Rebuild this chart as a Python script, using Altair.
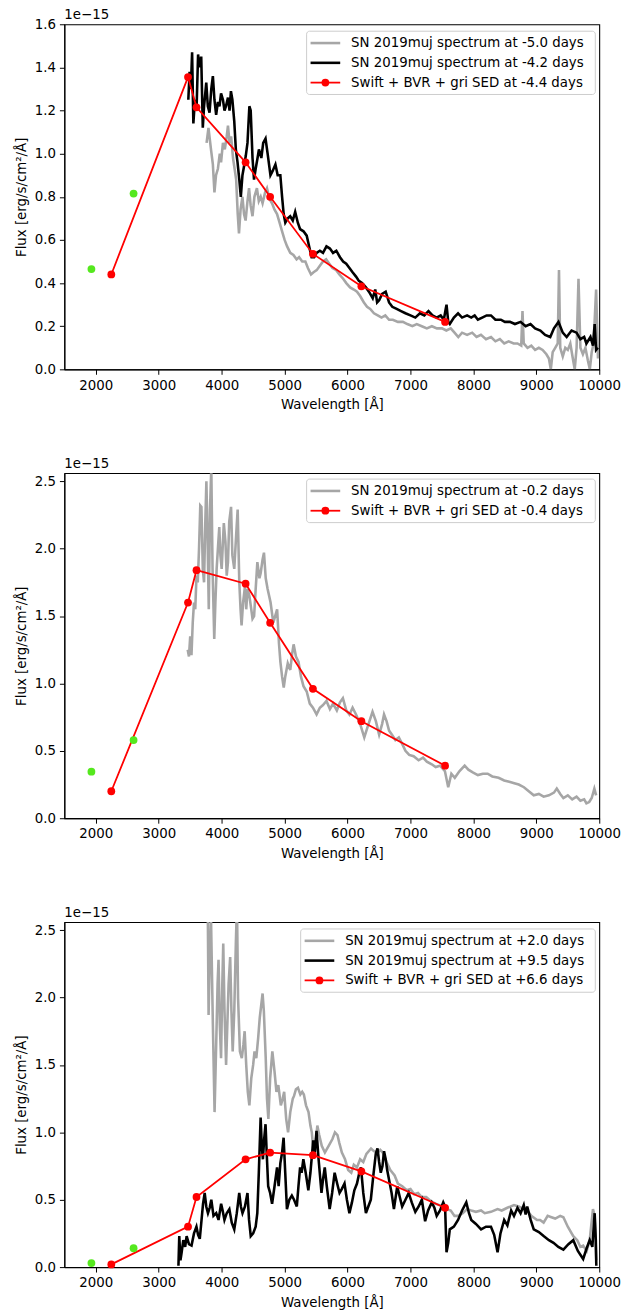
import altair as alt
import pandas as pd

FONT = "DejaVu Sans"
FS = 13.5
GREY = "#a6a6a6"
RED = "#ff0000"
GREEN = "#55e81e"

XTICKS = [2000, 3000, 4000, 5000, 6000, 7000, 8000, 9000, 10000]
OFFSET_TEXT = "1e−15"

# Photometric SED wavelengths (Angstrom)
SED_WL = [2246, 3465, 3600, 4380, 4770, 5450, 6220, 7550]
GREEN_WL = [1930, 2600]

# ---------------- Panel 1 ----------------
P1_SED = [0.44, 1.355, 1.215, 0.96, 0.80, 0.535, 0.385, 0.22]
P1_GREEN = [0.465, 0.815]

P1_GREY_WL = [3760, 3790, 3830, 3860, 3885, 3910, 3940, 3970, 3990, 4020, 4050, 4080, 4100, 4125, 4150,
              4180, 4210, 4230, 4255, 4275, 4300, 4330, 4355, 4380, 4410, 4435, 4460, 4490, 4520, 4560,
              4590, 4620, 4650, 4690, 4720, 4760, 4800, 4840, 4880, 4920, 4960, 5000, 5040, 5090, 5140,
              5190, 5230, 5280, 5330, 5370, 5420, 5460, 5510, 5560, 5610, 5660, 5710, 5760, 5820, 5870,
              5930, 5980, 6040, 6100, 6150, 6200, 6260, 6310, 6360, 6420, 6480, 6540, 6600, 6660, 6720,
              6800, 6880, 6950, 7030, 7100, 7180, 7260, 7340, 7420, 7500, 7570, 7640, 7700, 7760, 7820,
              7900, 7980, 8050, 8120, 8200, 8280, 8350, 8420, 8490, 8560, 8640, 8700, 8760, 8780, 8800,
              8860, 8920, 8980, 9040, 9100, 9160, 9200, 9230, 9260, 9300, 9340, 9360, 9380, 9420, 9460,
              9500, 9540, 9580, 9610, 9640, 9670, 9700, 9740, 9780, 9820, 9850, 9880, 9910, 9950, 9980]
P1_GREY_FL = [1.05, 1.12, 1.02, 0.95, 0.82, 0.90, 0.93, 1.00, 0.96, 1.05, 1.02, 1.08, 1.13, 1.05, 1.08,
              0.98, 0.92, 0.88, 0.72, 0.63, 0.74, 0.80, 0.72, 0.69, 0.78, 0.84, 0.76, 0.71, 0.80, 0.84,
              0.78, 0.80, 0.77, 0.82, 0.84, 0.79, 0.77, 0.74, 0.72, 0.68, 0.64, 0.60, 0.57, 0.54, 0.53,
              0.51, 0.52, 0.50, 0.50, 0.47, 0.44, 0.45, 0.46, 0.48, 0.50, 0.51, 0.49, 0.47, 0.46, 0.44,
              0.42, 0.40, 0.38, 0.37, 0.36, 0.34, 0.31, 0.29, 0.28, 0.26, 0.25, 0.24, 0.25, 0.23, 0.23,
              0.22, 0.22, 0.21, 0.20, 0.21, 0.20, 0.19, 0.20, 0.19, 0.19, 0.18, 0.19, 0.17, 0.15, 0.17,
              0.16, 0.17, 0.15, 0.16, 0.14, 0.15, 0.13, 0.14, 0.12, 0.13, 0.12, 0.12, 0.11, 0.27, 0.12,
              0.10, 0.11, 0.09, 0.10, 0.09, 0.07, 0.05, 0.00, 0.08, 0.10, 0.12, 0.46, 0.10, 0.06, 0.10,
              0.09, 0.12, 0.05, 0.00, 0.10, 0.42, 0.10, 0.07, 0.10, 0.04, 0.00, 0.08, 0.12, 0.37, 0.05]

P1_BLACK_WL = [3470, 3490, 3510, 3530, 3550, 3575, 3600, 3625, 3650, 3675, 3700, 3720, 3755, 3780, 3807,
               3835, 3860, 3885, 3912, 3940, 3965, 3990, 4020, 4045, 4068, 4100, 4125, 4147, 4170, 4200,
               4225, 4252, 4280, 4304, 4330, 4360, 4383, 4410, 4440, 4461, 4490, 4514, 4540, 4570, 4592,
               4630, 4660, 4697, 4730, 4775, 4810, 4854, 4890, 4932, 4960, 4985, 5011, 5050, 5089, 5130,
               5168, 5210, 5246, 5300, 5351, 5390, 5429, 5470, 5508, 5560, 5610, 5665, 5720, 5770, 5822,
               5880, 5930, 5979, 6030, 6080, 6135, 6180, 6230, 6292, 6340, 6400, 6440, 6470, 6502, 6550,
               6606, 6660, 6711, 6780, 6850, 6920, 7000, 7077, 7150, 7220, 7286, 7350, 7417, 7480, 7530,
               7560, 7573, 7600, 7625, 7690, 7756, 7820, 7900, 7966, 8020, 8071, 8140, 8210, 8279, 8350,
               8436, 8500, 8580, 8660, 8750, 8830, 8907, 8980, 9064, 9140, 9221, 9280, 9352, 9420, 9482,
               9560, 9639, 9700, 9760, 9796, 9860, 9900, 9927, 9950, 9979]
P1_BLACK_FL = [1.25, 1.38, 1.30, 1.47, 1.14, 1.25, 1.20, 1.46, 1.40, 1.45, 1.12, 1.22, 1.33, 1.22, 1.19,
               1.30, 1.36, 1.25, 1.18, 1.24, 1.22, 1.28, 1.25, 1.20, 1.22, 1.26, 1.20, 1.29, 1.25, 1.15,
               1.02, 0.96, 0.88, 0.80, 0.90, 0.95, 0.99, 1.05, 1.22, 1.20, 0.98, 0.88, 0.93, 0.98, 1.02,
               0.98, 1.05, 1.07, 1.00, 0.90, 0.92, 0.95, 0.90, 0.90, 0.80, 0.72, 0.68, 0.70, 0.71, 0.69,
               0.73, 0.68, 0.65, 0.64, 0.62, 0.57, 0.52, 0.52, 0.54, 0.55, 0.54, 0.57, 0.56, 0.54, 0.55,
               0.52, 0.50, 0.49, 0.47, 0.45, 0.43, 0.41, 0.40, 0.38, 0.36, 0.33, 0.37, 0.31, 0.32, 0.35,
               0.36, 0.31, 0.29, 0.28, 0.27, 0.26, 0.25, 0.24, 0.26, 0.25, 0.27, 0.25, 0.24, 0.25, 0.23,
               0.28, 0.30, 0.22, 0.21, 0.24, 0.26, 0.24, 0.25, 0.24, 0.25, 0.23, 0.24, 0.25, 0.25, 0.23,
               0.23, 0.22, 0.22, 0.21, 0.22, 0.20, 0.21, 0.19, 0.18, 0.16, 0.15, 0.19, 0.22, 0.17, 0.15,
               0.18, 0.17, 0.14, 0.15, 0.12, 0.15, 0.11, 0.21, 0.09, 0.10]

# ---------------- Panel 2 ----------------
P2_SED = [0.20, 1.60, 1.84, 1.74, 1.45, 0.96, 0.72, 0.39]
P2_GREEN = [0.345, 0.58]

P2_GREY_WL = [3460, 3480, 3500, 3520, 3540, 3560, 3580, 3600, 3620, 3640, 3660, 3678, 3700, 3720, 3740,
              3757, 3775, 3795, 3815, 3835, 3855, 3882, 3900, 3920, 3940, 3962, 3980, 4000, 4034, 4060,
              4080, 4100, 4120, 4149, 4170, 4200, 4230, 4254, 4280, 4300, 4316, 4340, 4370, 4390, 4411,
              4440, 4470, 4490, 4515, 4540, 4567, 4600, 4620, 4650, 4672, 4700, 4730, 4777, 4820, 4850,
              4881, 4910, 4933, 4960, 4986, 5010, 5050, 5090, 5120, 5143, 5180, 5221, 5260, 5300, 5351,
              5400, 5450, 5508, 5560, 5610, 5665, 5720, 5770, 5830, 5880, 5926, 5980, 6030, 6080, 6135,
              6200, 6266, 6320, 6397, 6450, 6502, 6550, 6580, 6620, 6660, 6706, 6760, 6815, 6870, 6920,
              6980, 7050, 7129, 7200, 7260, 7338, 7400, 7470, 7547, 7600, 7650, 7704, 7780, 7861, 7920,
              7990, 8071, 8150, 8227, 8300, 8400, 8489, 8570, 8650, 8720, 8803, 8880, 8959, 9040, 9116,
              9200, 9280, 9325, 9380, 9430, 9500, 9570, 9639, 9700, 9760, 9796, 9840, 9880, 9922, 9950]
P2_GREY_FL = [1.25, 1.20, 1.35, 1.21, 1.45, 1.60, 1.55, 1.80, 1.75, 2.00, 2.32, 2.31, 1.85, 1.75, 2.20,
              2.50, 2.10, 1.55, 2.30, 2.60, 1.85, 1.33, 1.60, 1.85, 2.00, 2.16, 1.95, 1.85, 2.19, 2.05,
              1.80, 1.90, 2.20, 2.31, 1.95, 1.85, 2.10, 2.29, 1.75, 1.55, 1.43, 1.60, 1.72, 1.55, 1.70,
              1.65, 1.55, 1.48, 1.50, 1.70, 1.90, 1.78, 1.82, 1.92, 1.97, 1.78, 1.70, 1.60, 1.45, 1.50,
              1.55, 1.30, 1.16, 1.05, 0.97, 1.05, 1.15, 1.10, 1.22, 1.29, 1.20, 1.16, 1.05, 0.98, 0.94,
              0.85, 0.82, 0.77, 0.82, 0.84, 0.87, 0.81, 0.85, 0.80, 0.86, 0.89, 0.80, 0.77, 0.82, 0.77,
              0.70, 0.60, 0.68, 0.79, 0.72, 0.62, 0.70, 0.77, 0.72, 0.65, 0.62, 0.58, 0.60, 0.55, 0.50,
              0.47, 0.46, 0.43, 0.45, 0.42, 0.40, 0.38, 0.39, 0.35, 0.23, 0.33, 0.30, 0.35, 0.39, 0.36,
              0.34, 0.32, 0.33, 0.33, 0.31, 0.30, 0.28, 0.27, 0.26, 0.25, 0.23, 0.20, 0.17, 0.18, 0.16,
              0.17, 0.19, 0.22, 0.18, 0.15, 0.17, 0.14, 0.16, 0.13, 0.14, 0.11, 0.12, 0.15, 0.22, 0.17]

# ---------------- Panel 3 ----------------
P3_SED = [0.02, 0.30, 0.52, 0.80, 0.85, 0.83, 0.71, 0.44]
P3_GREEN = [0.03, 0.14]

P3_GREY_WL = [3760, 3780, 3792, 3810, 3830, 3860, 3887, 3910, 3935, 3950, 3970, 3990, 4010, 4025, 4045,
              4070, 4090, 4110, 4135, 4155, 4175, 4200, 4225, 4243, 4260, 4290, 4320, 4345, 4365, 4390,
              4415, 4440, 4470, 4500, 4522, 4550, 4580, 4605, 4630, 4650, 4670, 4700, 4720, 4742, 4770,
              4805, 4840, 4870, 4900, 4940, 4970, 4993, 5025, 5055, 5090, 5130, 5150, 5180, 5212, 5250,
              5280, 5306, 5340, 5380, 5410, 5432, 5460, 5490, 5520, 5550, 5590, 5640, 5700, 5760, 5800,
              5840, 5870, 5910, 5960, 6010, 6059, 6100, 6150, 6200, 6250, 6300, 6373, 6420, 6480, 6520,
              6560, 6620, 6680, 6748, 6800, 6870, 6940, 7000, 7060, 7120, 7180, 7250, 7320, 7400, 7460,
              7520, 7580, 7640, 7700, 7760, 7830, 7900, 7966, 8040, 8122, 8180, 8279, 8384, 8450, 8540,
              8645, 8720, 8800, 8855, 8920, 9011, 9060, 9116, 9180, 9240, 9300, 9380, 9430, 9500, 9587,
              9650, 9700, 9744, 9800, 9848, 9900, 9927, 9953]
P3_GREY_FL = [3.00, 2.60, 1.87, 2.30, 2.60, 1.80, 1.15, 1.60, 2.10, 2.28, 1.80, 1.55, 2.10, 2.40, 1.90,
              1.50, 1.80, 2.10, 2.30, 1.90, 1.60, 1.90, 2.40, 2.70, 2.00, 1.60, 1.55, 1.65, 1.75, 1.50,
              1.30, 1.20, 1.40, 1.50, 1.60, 1.55, 1.70, 1.85, 1.95, 2.03, 1.90, 1.55, 1.25, 1.10, 1.40,
              1.60, 1.45, 1.30, 1.35, 1.20, 1.25, 1.30, 1.10, 1.00, 1.15, 1.25, 1.27, 1.32, 1.33, 1.28,
              1.30, 1.28, 1.20, 1.15, 1.05, 1.00, 0.85, 0.90, 1.05, 0.98, 0.90, 0.85, 0.90, 0.95, 1.00,
              0.98, 0.92, 0.85, 0.80, 0.72, 0.70, 0.76, 0.74, 0.80, 0.78, 0.84, 0.88, 0.86, 0.85, 0.87,
              0.85, 0.78, 0.72, 0.68, 0.62, 0.60, 0.57, 0.58, 0.54, 0.55, 0.52, 0.52, 0.49, 0.47, 0.46,
              0.45, 0.43, 0.42, 0.38, 0.38, 0.40, 0.43, 0.42, 0.41, 0.42, 0.40, 0.41, 0.43, 0.42, 0.44,
              0.46, 0.45, 0.43, 0.42, 0.38, 0.35, 0.35, 0.33, 0.38, 0.37, 0.36, 0.38, 0.37, 0.30, 0.23,
              0.20, 0.15, 0.16, 0.12, 0.20, 0.43, 0.38, 0.05]

P3_BLACK_WL = [3313, 3326, 3345, 3364, 3390, 3420, 3443, 3480, 3521, 3560, 3599, 3625, 3652, 3680, 3704,
               3730, 3755, 3782, 3810, 3835, 3870, 3913, 3950, 3991, 4015, 4044, 4080, 4122, 4160, 4200,
               4240, 4279, 4305, 4331, 4370, 4410, 4435, 4462, 4500, 4540, 4566, 4590, 4619, 4637, 4655,
               4675, 4697, 4715, 4739, 4770, 4801, 4840, 4880, 4905, 4932, 4960, 4984, 5010, 5037, 5075,
               5115, 5150, 5194, 5220, 5246, 5270, 5298, 5335, 5377, 5410, 5455, 5480, 5507, 5540, 5586,
               5610, 5638, 5670, 5716, 5755, 5795, 5835, 5873, 5910, 5952, 5990, 6030, 6070, 6108, 6150,
               6187, 6213, 6250, 6292, 6330, 6370, 6410, 6449, 6476, 6502, 6528, 6555, 6580, 6606, 6630,
               6659, 6700, 6737, 6790, 6830, 6868, 6920, 6972, 7020, 7077, 7130, 7181, 7233, 7280, 7338,
               7380, 7417, 7470, 7521, 7550, 7573, 7600, 7625, 7690, 7756, 7820, 7887, 7930, 7966, 8040,
               8122, 8200, 8279, 8330, 8384, 8430, 8489, 8540, 8600, 8645, 8700, 8750, 8800, 8830, 8855,
               8910, 8959, 9040, 9116, 9200, 9273, 9350, 9430, 9510, 9587, 9660, 9744, 9800, 9848, 9890,
               9927, 9945, 9953]
P3_BLACK_FL = [0.01, 0.23, 0.05, 0.11, 0.20, 0.15, 0.23, 0.17, 0.16, 0.25, 0.30, 0.24, 0.21, 0.35, 0.47,
               0.55, 0.45, 0.40, 0.44, 0.50, 0.38, 0.40, 0.35, 0.47, 0.42, 0.35, 0.40, 0.43, 0.33, 0.28,
               0.40, 0.55, 0.45, 0.40, 0.45, 0.55, 0.35, 0.23, 0.25, 0.30, 0.40, 0.70, 1.11, 0.90, 0.80,
               0.95, 1.06, 0.85, 0.60, 0.55, 0.47, 0.60, 0.74, 0.60, 0.77, 0.85, 0.96, 0.70, 0.43, 0.50,
               0.53, 0.50, 0.45, 0.60, 0.74, 0.70, 0.80, 0.70, 0.57, 0.70, 0.94, 0.85, 1.01, 0.80, 0.55,
               0.65, 0.74, 0.60, 0.43, 0.55, 0.70, 0.62, 0.55, 0.58, 0.62, 0.50, 0.40, 0.48, 0.57, 0.62,
               0.70, 0.74, 0.55, 0.40, 0.45, 0.50, 0.68, 0.84, 0.88, 0.78, 0.70, 0.75, 0.86, 0.80, 0.72,
               0.65, 0.55, 0.43, 0.60, 0.52, 0.45, 0.50, 0.55, 0.48, 0.41, 0.45, 0.50, 0.34, 0.42, 0.48,
               0.44, 0.38, 0.42, 0.48, 0.45, 0.11, 0.18, 0.28, 0.30, 0.35, 0.42, 0.48, 0.40, 0.35, 0.32,
               0.28, 0.30, 0.30, 0.24, 0.11, 0.25, 0.35, 0.31, 0.42, 0.38, 0.44, 0.40, 0.46, 0.39, 0.45,
               0.35, 0.28, 0.26, 0.23, 0.20, 0.18, 0.15, 0.13, 0.17, 0.20, 0.12, 0.06, 0.14, 0.20, 0.15,
               0.40, 0.20, 0.01]

# Legend labels
L1 = ["SN 2019muj spectrum at -5.0 days", "SN 2019muj spectrum at -4.2 days",
      "Swift + BVR + gri SED at -4.4 days"]
L2 = ["SN 2019muj spectrum at -0.2 days", "Swift + BVR + gri SED at -0.4 days"]
L3 = ["SN 2019muj spectrum at +2.0 days", "SN 2019muj spectrum at +9.5 days",
      "Swift + BVR + gri SED at +6.6 days"]

W, H = 541, 349
YTITLE = "Flux [erg/s/cm²/Å]"
XTITLE = "Wavelength [Å]"
DUMMY = pd.DataFrame({"d": [0]})


def panel(ymax, yticks, spectra, sed, green, labels, kinds, box):
    xenc = alt.X("wl:Q", scale=alt.Scale(domain=[1500, 10000], nice=False, zero=False),
                 axis=alt.Axis(values=XTICKS, format="d", title=XTITLE, labelFlush=False))
    yenc = alt.Y("fl:Q", scale=alt.Scale(domain=[0, ymax], nice=False),
                 axis=alt.Axis(values=yticks, format=".1f", title=YTITLE, labelFlush=False))
    layers = []
    for wl, fl, col in spectra:
        df = pd.DataFrame({"wl": wl, "fl": fl})
        layers.append(alt.Chart(df).mark_line(color=col, strokeWidth=2.6, clip=True)
                      .encode(x=xenc, y=yenc))
    sdf = pd.DataFrame({"wl": SED_WL, "fl": sed})
    layers.append(alt.Chart(sdf).mark_line(color=RED, strokeWidth=1.8, clip=True).encode(x=xenc, y=yenc))
    layers.append(alt.Chart(sdf).mark_circle(color=RED, size=62, opacity=1).encode(x=xenc, y=yenc))
    gdf = pd.DataFrame({"wl": GREEN_WL, "fl": green})
    layers.append(alt.Chart(gdf).mark_circle(color=GREEN, size=62, opacity=1).encode(x=xenc, y=yenc))

    # legend box (matplotlib style, in plot pixel space)
    bx0, bx1, by0, rowy = box
    by1 = rowy[-1] + 12
    layers.append(alt.Chart(DUMMY).mark_rect(fill="white", fillOpacity=0.8, stroke="#cccccc",
                                             strokeWidth=1, cornerRadius=3)
                  .encode(x=alt.value(bx0), x2=alt.value(bx1), y=alt.value(by0), y2=alt.value(by1)))
    for lab, kind, yy in zip(labels, kinds, rowy):
        if kind == "sed":
            layers.append(alt.Chart(DUMMY).mark_rule(color=RED, strokeWidth=1.8)
                          .encode(x=alt.value(bx0 + 4), x2=alt.value(bx0 + 34), y=alt.value(yy)))
            layers.append(alt.Chart(DUMMY).mark_circle(color=RED, size=62, opacity=1)
                          .encode(x=alt.value(bx0 + 19), y=alt.value(yy)))
        else:
            layers.append(alt.Chart(DUMMY).mark_rule(color=kind, strokeWidth=2.6)
                          .encode(x=alt.value(bx0 + 4), x2=alt.value(bx0 + 34), y=alt.value(yy)))
        layers.append(alt.Chart(DUMMY).mark_text(align="left", baseline="middle", font=FONT,
                                                 fontSize=FS, color="black")
                      .encode(x=alt.value(bx0 + 45), y=alt.value(yy), text=alt.value(lab)))
    # matplotlib-style offset text above the top-left corner of the axes
    layers.append(alt.Chart(DUMMY).mark_text(align="left", baseline="middle", font=FONT,
                                             fontSize=FS, color="black")
                  .encode(x=alt.value(0), y=alt.value(-9), text=alt.value(OFFSET_TEXT)))
    return alt.layer(*layers).properties(width=W, height=H)


p1 = panel(1.6, [0.0, 0.2, 0.4, 0.6, 0.8, 1.0, 1.2, 1.4, 1.6],
           [(P1_GREY_WL, P1_GREY_FL, GREY), (P1_BLACK_WL, P1_BLACK_FL, "black")],
           P1_SED, P1_GREEN, L1, [GREY, "black", "sed"], (245, 537, 7, [19, 39, 59]))
p2 = panel(2.56, [0.0, 0.5, 1.0, 1.5, 2.0, 2.5],
           [(P2_GREY_WL, P2_GREY_FL, GREY)],
           P2_SED, P2_GREEN, L2, [GREY, "sed"], (245, 537, 6, [18, 38]))
p3 = panel(2.56, [0.0, 0.5, 1.0, 1.5, 2.0, 2.5],
           [(P3_GREY_WL, P3_GREY_FL, GREY), (P3_BLACK_WL, P3_BLACK_FL, "black")],
           P3_SED, P3_GREEN, L3, [GREY, "black", "sed"], (239, 537, 7, [19, 39, 59]))

chart = alt.vconcat(p1, p2, p3, spacing=45).properties(
    padding={"left": 5, "top": -8, "right": 0, "bottom": 0}
).configure_view(stroke="black", strokeWidth=1.1).configure_axis(
    labelFont=FONT, titleFont=FONT, labelFontSize=FS, titleFontSize=FS, titleFontWeight="normal",
    labelColor="black", titleColor="black", tickColor="black", domainColor="black",
    tickSize=5, tickWidth=1, domainWidth=1.1, grid=False, labelPadding=4, titlePadding=6
)

chart.save("out.html", embed_options={"renderer": "svg", "actions": False})
